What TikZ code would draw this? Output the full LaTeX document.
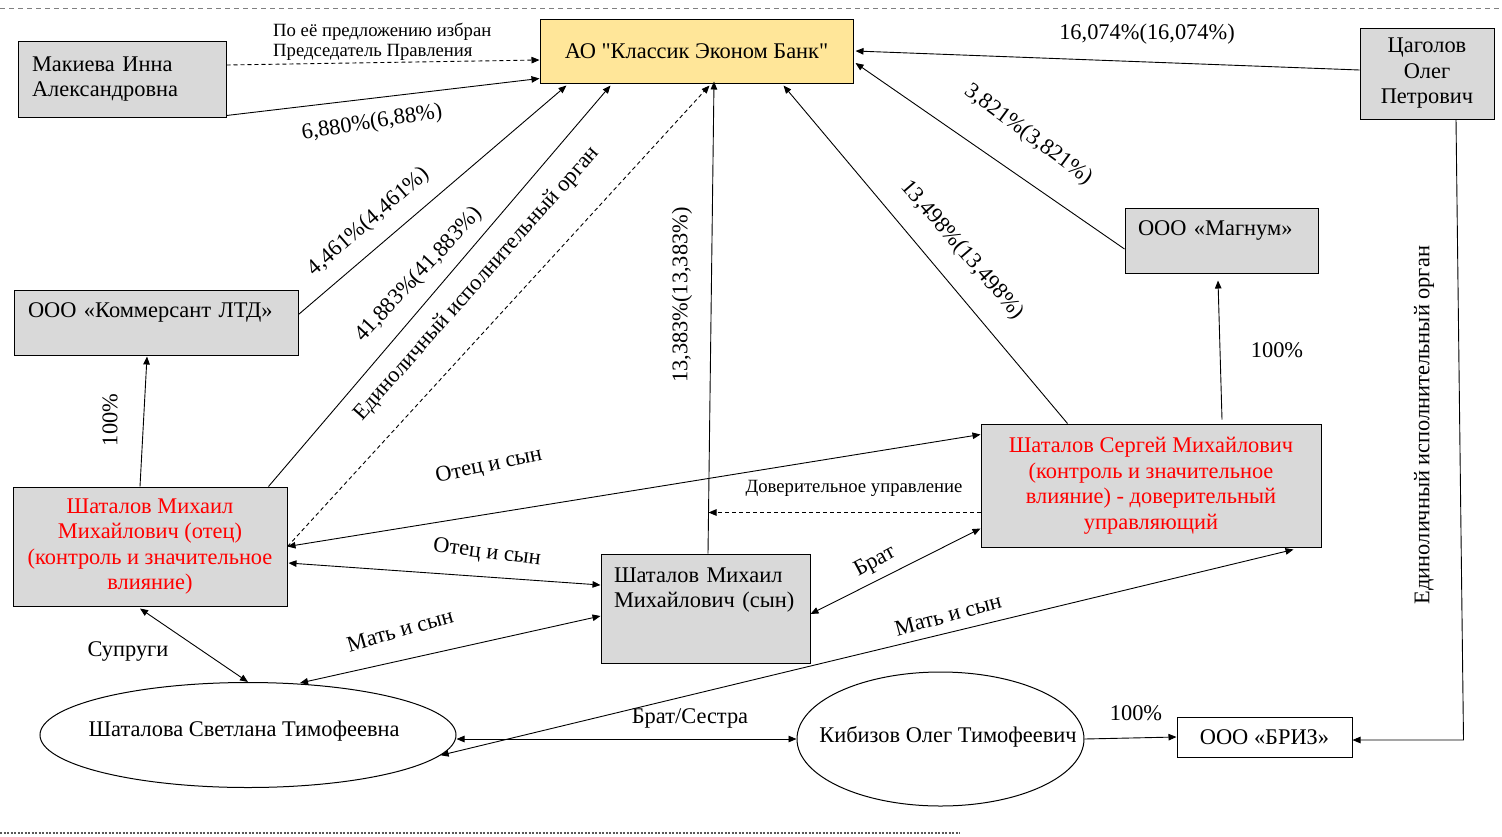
\documentclass[tikz,border=0pt]{standalone}
\usepackage{fontspec}
\setmainfont{Liberation Serif}[Ligatures=TeXOff]
\usetikzlibrary{arrows.meta,shapes.geometric,calc}
\definecolor{boxgray}{HTML}{D9D9D9}
\definecolor{bankyel}{HTML}{FFE699}
\definecolor{redtxt}{HTML}{FF0000}
\begin{document}
\begin{tikzpicture}[x=1pt,y=-1pt,
  >={Triangle[length=8pt,width=6.5pt]},
  box/.style={draw=black, line width=1pt, fill=boxgray, inner sep=0pt, font=\fontsize{22.4}{25.5}\selectfont},
  ell/.style={draw=black, line width=1pt, ellipse, inner sep=0pt},
  conn/.style={line width=0.9pt},
  dsh/.style={line width=0.9pt, dash pattern=on 4pt off 3pt},
  lbl/.style={font=\fontsize{22.4}{25}\selectfont, inner sep=0pt},
  slbl/.style={font=\fontsize{18.7}{20}\selectfont, inner sep=0pt}]
\useasboundingbox (0,0) rectangle (1502,836);

% frame lines
\draw[gray, line width=1pt, dash pattern=on 5pt off 4pt] (0,8) -- (1502,8);
\draw[gray!70!black, line width=1.5pt, dash pattern=on 2pt off 1.5pt] (0,833) -- (960,833);

% nodes
\node[box, minimum width=208, minimum height=76, text width=180, align=left] (mak) at (122,79) {Макиева Инна\\Александровна};
\node[box, fill=bankyel, minimum width=313, minimum height=64] (bank) at (696.5,51) {АО "Классик Эконом Банк"};
\node[box, minimum width=134, minimum height=91, align=center] (tsa) at (1427,73.5) {Цаголов\\Олег\\Петрович};
\node[box, minimum width=284, minimum height=65, text width=256, align=left] (kom) at (156,322.5) {ООО «Коммерсант ЛТД»\\ \mbox{}};
\node[box, minimum width=193, minimum height=65, text width=167, align=left] (mag) at (1221.5,240.5) {ООО «Магнум»\\ \mbox{}};
\node[box, minimum width=274, minimum height=119, align=center, text=redtxt] (ot) at (150,546.5) {Шаталов Михаил\\Михайлович (отец)\\(контроль и значительное\\влияние)};
\node[box, minimum width=340, minimum height=123, align=center, text=redtxt] (serg) at (1151,485.5) {Шаталов Сергей Михайлович\\(контроль и значительное\\влияние) - доверительный\\управляющий};
\node[box, minimum width=209, minimum height=109, text width=183, align=left] (syn) at (705.5,608.5) {Шаталов Михаил\\Михайлович (сын)\\[16pt]\mbox{}};
\node[ell, minimum width=416, minimum height=105] (shv) at (248,735) {};
\node[lbl] (shvt) at (244,731) {Шаталова Светлана Тимофеевна};
\node[ell, minimum width=287, minimum height=134] (kib) at (940.5,739) {};
\node[lbl] (kibt) at (948,737) {Кибизов Олег Тимофеевич};
\node[box, fill=white, minimum width=175, minimum height=40] (briz) at (1264.5,737) {ООО «БРИЗ»};

% connectors to bank
\draw[dsh,->] ($(mak.east)+(0,-14)$) -- ($(bank.west)+(0,9)$);
\draw[conn,->] ($(mak.south east)+(0,-2)$) -- ($(bank.south west)+(0,-5)$);
\draw[conn,->] ($(kom.east)+(0,-8)$) -- ($(bank.south west)+(27,2)$);
\draw[conn,->] ($(ot.north east)+(-19,0)$) -- ($(bank.south west)+(71,2)$);
\draw[dsh,->] (ot.east) -- ($(bank.south west)+(170,2)$);
\draw[conn,->] ($(syn.north)+(2.5,0)$) -- ($(bank.south)+(17.5,-2)$);
\draw[conn,->] ($(serg.north west)+(87,0)$) -- ($(bank.south east)+(-70,2)$);
\draw[conn,->] ($(mag.west)+(0,8.5)$) -- ($(bank.east)+(2,12)$);
\draw[conn,->] ($(tsa.west)+(0,-3.5)$) -- ($(bank.east)+(2,0)$);

% other connectors
\draw[conn,->] ($(tsa.south)+(29,0)$) -- ($(briz.east)+(111,3)$) -- ($(briz.east)+(0,3)$);
\draw[conn,->] ($(serg.north)+(71,-4)$) -- ($(mag.south)+(-3.5,7)$);
\draw[conn,->] ($(ot.north)+(-10,0)$) -- ($(kom.south)+(-9,1)$);
\draw[conn,<->] (ot.east) -- ($(serg.north west)+(0,11)$);
\coordinate (dovend) at ($(syn.north)+(3,-41)$);
\draw[dsh,->] ($(serg.north west)+(0,89)$) -- (dovend);
\draw[conn,<->] ($(ot.east)+(1,16.5)$) -- ($(syn.west)+(0,-23.5)$);
\draw[conn,<->] ($(syn.east)+(0,5.5)$) -- ($(serg.south west)+(0,-19)$);
\draw[conn,<->] ($(ot.south)+(-10,2)$) -- (shv.north);
\draw[conn,<->] ($(shv.north)+(52,1)$) -- ($(syn.west)+(0,7.5)$);
\draw[conn,<->] (shv.-6) -- ($(serg.south east)+(-28,2)$);
\draw[conn,<->] ($(shv.east)+(0,4)$) -- (kib.west);
\draw[conn,->] (kib.east) -- (briz.west);

% labels
\node[slbl, align=left, anchor=west] (lpred) at (273,42) {По её предложению избран\\Председатель Правления};
\node[lbl, rotate=9] (l6880) at (372,123) {6,880\%(6,88\%)};
\node[lbl, rotate=41] (l4461) at (369,222) {4,461\%(4,461\%)};
\node[lbl, rotate=47] (l41883) at (419,275) {41,883\%(41,883\%)};
\node[lbl, rotate=48.5] (ledin1) at (477,284) {Единоличный исполнительный орган};
\node[lbl, rotate=90] (l13383) at (682,295) {13,383\%(13,383\%)};
\node[lbl, rotate=-49] (l13498) at (962,250) {13,498\%(13,498\%)};
\node[lbl, rotate=-36.5] (l3821) at (1028,135) {3,821\%(3,821\%)};
\node[lbl] (l16074) at (1147,34) {16,074\%(16,074\%)};
\node[lbl, rotate=90] (ledin2) at (1424,425) {Единоличный исполнительный орган};
\node[lbl] (l100m) at (1277,350) {100\%};
\node[lbl, rotate=90] (l100k) at (110,420) {100\%};
\node[lbl, rotate=12] (lots1) at (489,466) {Отец и сын};
\node[slbl] (ldov) at (854,488) {Доверительное управление};
\node[lbl, rotate=-7] (lots2) at (487,553) {Отец и сын};
\node[lbl, rotate=28] (lbrat) at (875,562) {Брат};
\node[lbl] (lsup) at (128,651) {Супруги};
\node[lbl, rotate=16] (lmat1) at (400,630) {Мать и сын};
\node[lbl, rotate=15] (lmat2) at (948,615) {Мать и сын};
\node[lbl] (lbs) at (690,718) {Брат/Сестра};
\node[lbl] (l100b) at (1136,713) {100\%};
\end{tikzpicture}
\end{document}
